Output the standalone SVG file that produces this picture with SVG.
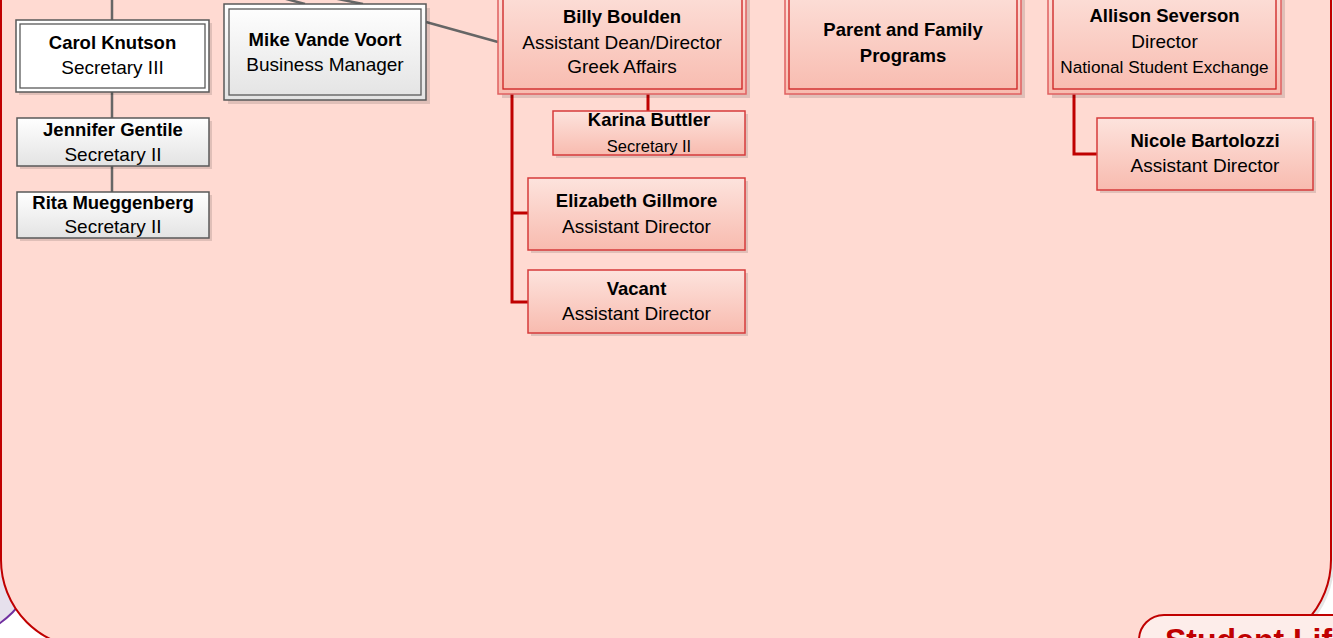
<svg xmlns="http://www.w3.org/2000/svg" width="1333" height="638" viewBox="0 0 1333 638">
<defs>
<linearGradient id="pinkGrad" x1="0" y1="0" x2="0" y2="1">
<stop offset="0" stop-color="#FDE3DD"/>
<stop offset="1" stop-color="#F8BBAF"/>
</linearGradient>
<linearGradient id="grayGrad" x1="0" y1="0" x2="0" y2="1">
<stop offset="0" stop-color="#FFFFFF"/>
<stop offset="1" stop-color="#E3E3E3"/>
</linearGradient>
<style>
text{font-family:"Liberation Sans",Arial,sans-serif;fill:#000;text-anchor:middle}
.b{font-weight:bold;font-size:18.5px}
.r{font-size:19px}
.s{font-size:16.5px}
.shadow{fill:#000;opacity:0.12}
.gbox{fill:url(#grayGrad);stroke:#595959;stroke-width:1.5}
.wbox{fill:#FFFFFF;stroke:#595959;stroke-width:1.5}
.gin{fill:none;stroke:#595959;stroke-width:1.3}
.pbox{fill:url(#pinkGrad);stroke:#D63B3B;stroke-width:1.5}
.pout{fill:url(#pinkGrad);stroke:#E06060;stroke-width:1.5}
.pin{fill:none;stroke:#CC2020;stroke-width:1.3}
.gline{fill:none;stroke:#666666;stroke-width:2.5}
.rline{fill:none;stroke:#C00000;stroke-width:3}
</style>
</defs>
<rect width="1333" height="638" fill="#FFFFFF"/>
<g id="purple-back">
<path d="M -200,300 L 42.5,300 L 42.5,540 A 102.5 102.5 0 0 1 -60,642.5 L -200,642.5 Z" fill="#E6E0EC" stroke="#7030A0" stroke-width="2"/>
</g>
<g id="container">
<rect x="4" y="-197" width="1330" height="848" rx="88" fill="#000" opacity="0.1"/>
<rect x="1" y="-200" width="1330" height="848" rx="88" fill="#FFDAD2" stroke="#C00000" stroke-width="2"/>
</g>
<g id="connectors">
<path class="gline" d="M112,0 V20 M112,92 V118 M112,166 V192"/>
<path class="gline" d="M426,22 L498,42"/>
<path class="gline" d="M252.5,-10 L305,4 M293,-10 L363,4"/>
<path class="rline" d="M512,94 V302 H528 M512,213 H528"/>
<path class="rline" d="M648,94 V111"/>
<path class="rline" d="M1074,94 V154 H1097"/>
</g>
<g id="carol">
<rect class="shadow" x="19" y="23" width="193" height="72"/>
<rect class="wbox" x="16" y="20" width="193" height="72"/>
<rect class="gin" x="20" y="24" width="185" height="64"/>
<text class="b" x="112.5" y="49">Carol Knutson</text>
<text class="r" x="112.5" y="74">Secretary III</text>
</g>
<g id="jennifer">
<rect class="shadow" x="20" y="121" width="192" height="48"/>
<rect class="gbox" x="17" y="118" width="192" height="48"/>
<text class="b" x="113" y="136">Jennifer Gentile</text>
<text class="r" x="113" y="160.5">Secretary II</text>
</g>
<g id="rita">
<rect class="shadow" x="20" y="195" width="192" height="46"/>
<rect class="gbox" x="17" y="192" width="192" height="46"/>
<text class="b" x="113" y="209">Rita Mueggenberg</text>
<text class="r" x="113" y="233">Secretary II</text>
</g>
<g id="mike">
<rect class="shadow" x="228" y="8" width="202" height="96"/>
<rect class="gbox" x="224" y="4" width="202" height="96"/>
<rect class="gin" x="229" y="9" width="192" height="86"/>
<text class="b" x="325" y="46">Mike Vande Voort</text>
<text class="r" x="325" y="71">Business Manager</text>
</g>
<g id="billy">
<rect class="shadow" x="502" y="-16" width="248" height="114"/>
<rect class="pout" x="498" y="-20" width="248" height="114"/>
<rect class="pin" x="503" y="-15" width="239" height="104"/>
<text class="b" x="622" y="23">Billy Boulden</text>
<text class="r" x="622" y="49">Assistant Dean/Director</text>
<text class="r" x="622" y="73">Greek Affairs</text>
</g>
<g id="karina">
<rect class="shadow" x="556" y="114" width="192" height="44"/>
<rect class="pbox" x="553" y="111" width="192" height="44"/>
<text class="b" x="649" y="126">Karina Buttler</text>
<text class="s" x="649" y="151.5">Secretary II</text>
</g>
<g id="elizabeth">
<rect class="shadow" x="531" y="181" width="217" height="72"/>
<rect class="pbox" x="528" y="178" width="217" height="72"/>
<text class="b" x="636.5" y="206.5">Elizabeth Gillmore</text>
<text class="r" x="636.5" y="232.5">Assistant Director</text>
</g>
<g id="vacant">
<rect class="shadow" x="531" y="273" width="217" height="63"/>
<rect class="pbox" x="528" y="270" width="217" height="63"/>
<text class="b" x="636.5" y="294.5">Vacant</text>
<text class="r" x="636.5" y="320">Assistant Director</text>
</g>
<g id="parent">
<rect class="shadow" x="789" y="-16" width="236" height="114"/>
<rect class="pout" x="785" y="-20" width="236" height="114"/>
<rect class="pin" x="789" y="-15" width="228" height="104"/>
<text class="b" x="903" y="35.5">Parent and Family</text>
<text class="b" x="903" y="61.5">Programs</text>
</g>
<g id="allison">
<rect class="shadow" x="1052" y="-16" width="233" height="114"/>
<rect class="pout" x="1048" y="-20" width="233" height="114"/>
<rect class="pin" x="1053" y="-15" width="223" height="104"/>
<text class="b" x="1164.5" y="21.5">Allison Severson</text>
<text class="r" x="1164.5" y="47.5">Director</text>
<text class="s" x="1164.5" y="72.5" style="font-size:17.2px">National Student Exchange</text>
</g>
<g id="nicole">
<rect class="shadow" x="1100" y="121" width="216" height="72"/>
<rect class="pbox" x="1097" y="118" width="216" height="72"/>
<text class="b" x="1205" y="147">Nicole Bartolozzi</text>
<text class="r" x="1205" y="172">Assistant Director</text>
</g>
<g id="student-life">
<rect x="1142" y="618" width="300" height="100" rx="25" fill="#000" opacity="0.1"/>
<rect x="1139" y="615" width="300" height="100" rx="25" fill="#FDEDEA" stroke="#C00000" stroke-width="2"/>
<text x="1165" y="651" style="font-size:32px;font-weight:bold;fill:#C00000;text-anchor:start">Student Life</text>
</g>
</svg>
